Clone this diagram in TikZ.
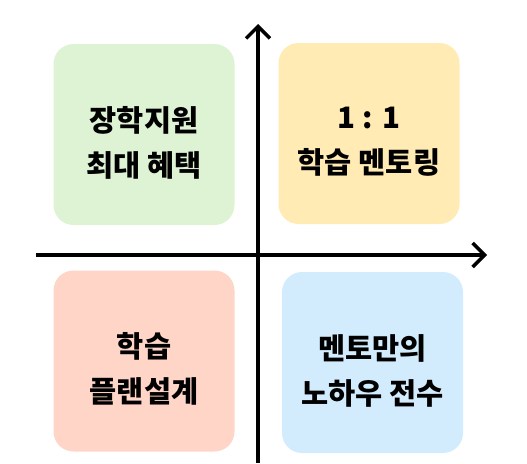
\documentclass[tikz,border=0pt]{standalone}
\usepackage{fontspec}
\newfontfamily\krfont{Noto Sans CJK KR}
\usetikzlibrary{arrows.meta}
\definecolor{greenbox}{HTML}{DDF3D3}
\definecolor{yellowbox}{HTML}{FFEBB3}
\definecolor{pinkbox}{HTML}{FFD5C7}
\definecolor{bluebox}{HTML}{D2ECFD}
\newcommand{\boxline}[1]{\raisebox{-8pt}[\height][\depth]{#1}}
\tikzset{
  quadbox/.style={fill=#1, draw=none, rounded corners=20pt, minimum width=181pt,
    minimum height=181pt, align=center, inner sep=0pt,
    font=\krfont\bfseries\fontsize{29.5}{45}\selectfont},
  axis/.style={line width=3.5pt, -{Straight Barb[length=12pt, width=24pt, line width=3.5pt]}}
}
\begin{document}
\begin{tikzpicture}[x=1pt, y=-1pt]
  \useasboundingbox (0,0) rectangle (527,463);
  % Quadrant boxes
  \node[quadbox=greenbox]  (support) at (144,134.5) {\boxline{장학지원}\\\boxline{최대 혜택}};
  \node[quadbox=yellowbox] (mentor)  at (369,133.5) {\boxline{1 : 1}\\\boxline{학습 멘토링}};
  \node[quadbox=pinkbox]   (plan)    at (144,361)   {\boxline{학습}\\\boxline{플랜설계}};
  \node[quadbox=bluebox]   (knowhow) at (372.5,362.5) {\boxline{멘토만의}\\\boxline{노하우 전수}};

  % Axes
  \coordinate (ybot) at (258,463);
  \coordinate (ytop) at (258,24);
  \coordinate (xleft) at (36,255);
  \coordinate (xright) at (487,255);
  \draw[axis] (ybot) -- (ytop);
  \draw[axis] (xleft) -- (xright);
\end{tikzpicture}
\end{document}
